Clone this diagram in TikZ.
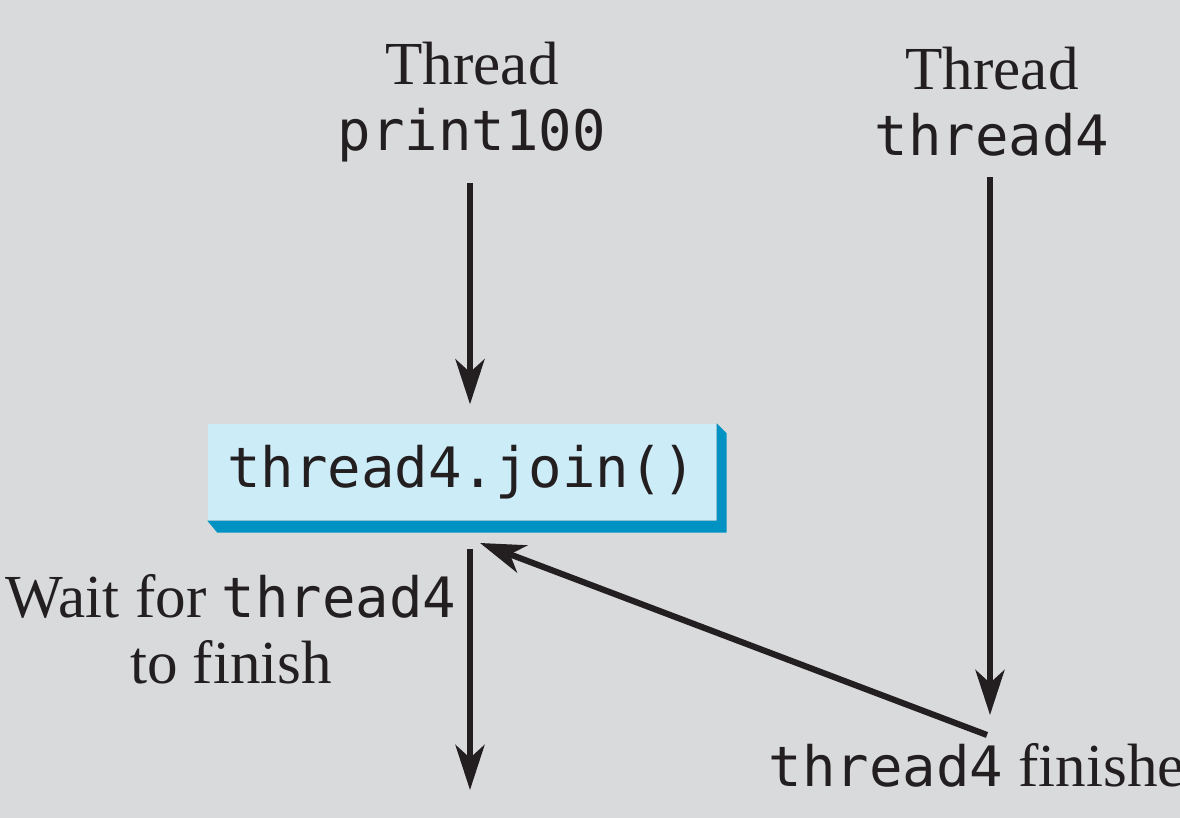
\documentclass[tikz,border=0pt]{standalone}
\usepackage{fontspec}
\setmainfont{Liberation Serif}
\setmonofont[Scale=0.91]{DejaVu Sans Mono}
\usetikzlibrary{arrows.meta,positioning,calc}
\definecolor{bggray}{RGB}{217,218,220}
\definecolor{boxfill}{RGB}{204,236,248}
\definecolor{boxshade}{RGB}{0,146,194}
\definecolor{ink}{RGB}{35,31,32}

\begin{document}
\begin{tikzpicture}[
  arrow/.style={-{Stealth[length=4.5mm,width=2.9mm,inset=1.3mm]},line width=1.75pt,draw=ink},
  label/.style={font=\fontsize{17.4}{18.8}\selectfont,align=center,inner sep=0pt,text=ink},
  codebox/.style={fill=boxfill,minimum width=5.08cm,minimum height=0.96cm,inner sep=0pt,
    font=\fontsize{17.4}{18.8}\selectfont\ttfamily,text=ink},
  boxshadow/.style={fill=boxshade}
]
\useasboundingbox (0,0) rectangle (11.8,-8.18);
\fill[bggray] (0,0) rectangle (11.8,-8.18);

% Thread headers
\node[label] (thrA) at (4.72,-1.02) {Thread\\\texttt{print100}};
\node[label] (thrB) at (9.92,-1.02) {Thread\\\texttt{thread4}};

% The join call with its shadow on the right and bottom
\node[codebox] (join) at (4.62,-4.72) {thread4.join()};
\fill[boxshadow] (join.north east) -- ++(0.10,-0.10) -- ($(join.south east)+(0.10,-0.12)$)
  -- ($(join.south west)+(0.10,-0.12)$) -- (join.south west) -- (join.south east) -- cycle;

% Labels next to the flows
\node[label,anchor=east] (wait) at (4.57,-6.29) {Wait for \texttt{thread4}\\to finish};
\node[label,anchor=base west] (done) at (7.68,-7.87) {\texttt{thread4} finishe};

\coordinate (endA) at (4.70,-7.90);
\coordinate (endB) at (9.90,-7.33);
\coordinate (finpt) at (9.87,-7.35);
\coordinate (joinpt) at (4.80,-5.43);

% print100 runs into the join, then waits
\draw[arrow,shorten <=0.2cm,shorten >=0.19cm] (thrA.south -| endA) -- (join.north -| endA);
\draw[arrow,shorten <=0.28cm] (join.south -| endA) -- (endA);

% thread4 runs to its end, then wakes print100
\draw[arrow,shorten <=0.2cm,shorten >=0.18cm] (thrB.south -| endB) -- (endB);
\draw[arrow] (finpt) -- (joinpt);
\end{tikzpicture}
\end{document}
